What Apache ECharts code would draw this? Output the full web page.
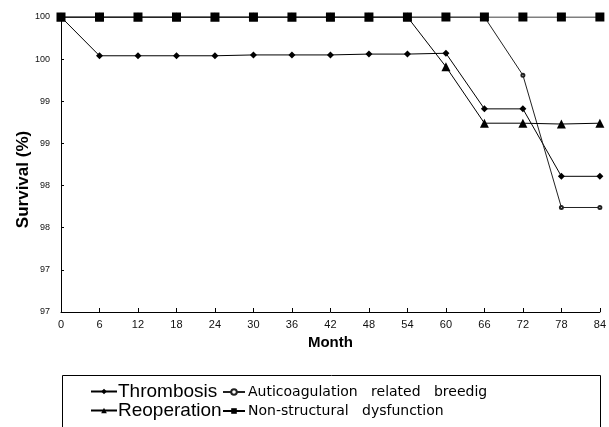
<!DOCTYPE html>
<html><head><meta charset="utf-8">
<script src="https://cdn.jsdelivr.net/npm/echarts@6/dist/echarts.min.js"></script>
<style>html,body{margin:0;padding:0;background:#fff}#c{width:609px;height:427px}</style>
</head><body><div id="c"></div>
<script>
const months = [0, 6, 12, 18, 24, 30, 36, 42, 48, 54, 60, 66, 72, 78, 84];
const thrombosis    = [100, 99.54, 99.54, 99.54, 99.54, 99.55, 99.55, 99.55, 99.56, 99.56, 99.57, 98.91, 98.91, 98.11, 98.11];
const anticoag      = [100, 100, 100, 100, 100, 100, 100, 100, 100, 100, 100, 100, 99.31, 97.74, 97.74];
const reoperation   = [100, 100, 100, 100, 100, 100, 100, 100, 100, 100, 99.41, 98.74, 98.74, 98.73, 98.74];
const nonStructural = [100, 100, 100, 100, 100, 100, 100, 100, 100, 100, 100, 100, 100, 100, 100];
const yTickValues = [96.5, 97, 97.5, 98, 98.5, 99, 99.5, 100];
const yTickLabels = ['97', '97', '98', '98', '99', '99', '100', '100'];
const names = ['Thrombosis', 'Auticoagulation   related   breedig', 'Reoperation', 'Non-structural   dysfunction'];

const pts = arr => months.map((m, i) => [m, arr[i]]);
const chart = echarts.init(document.getElementById('c'));
const font = 'Liberation Sans, Arial, sans-serif';
function legend(name, left, top, size, fam, w, pad) {
  return { data: [name], left: left, top: top, itemWidth: w, itemHeight: 7, padding: 0,
    textStyle: { fontFamily: fam, fontSize: size, color: '#000', padding: [0, 0, 0, pad] } };
}
chart.setOption({
  animation: false,
  backgroundColor: '#fff',
  grid: { left: 61, right: 9, top: 17, bottom: 115 },
  xAxis: {
    type: 'value', min: 0, max: 84, interval: 6,
    name: 'Month', nameLocation: 'middle', nameGap: 20,
    nameTextStyle: { fontFamily: font, fontWeight: 'bold', fontSize: 15, color: '#000' },
    axisLine: { lineStyle: { color: '#000', width: 1 } },
    axisTick: { inside: true, length: 4, lineStyle: { color: '#000' } },
    axisLabel: { fontFamily: font, fontSize: 11, color: '#111', margin: 7 },
    splitLine: { show: false }
  },
  yAxis: {
    type: 'value', min: 96.5, max: 100, interval: 0.5,
    name: 'Survival (%)', nameLocation: 'middle', nameGap: 29, nameRotate: 90, nameMoveOverlap: false,
    nameTextStyle: { fontFamily: font, fontWeight: 'bold', fontSize: 17, color: '#000', padding: [0, 30, 0, 0] },
    axisLine: { show: true, lineStyle: { color: '#000', width: 1 } },
    axisTick: { show: true, inside: true, length: 3, lineStyle: { color: '#000' } },
    axisLabel: { fontFamily: 'Liberation Sans Narrow, Arial Narrow, sans-serif', fontSize: 9, color: '#111', margin: 11,
      formatter: v => { const i = yTickValues.findIndex(t => Math.abs(t - v) < 1e-6); return i >= 0 ? yTickLabels[i] : ''; } },
    splitLine: { show: false }
  },
  legend: [
    legend(names[0], 90, 382, 19, font, 26, -4),
    legend(names[2], 90, 401, 19, font, 26, -4),
    legend(names[1], 222, 385, 14, 'DejaVu Sans, sans-serif', 22, -2),
    legend(names[3], 222, 404, 14, 'DejaVu Sans, sans-serif', 22, -2)
  ],
  graphic: [{ type: 'rect', shape: { x: 62.5, y: 375.5, width: 538, height: 70 },
    style: { fill: 'none', stroke: '#000', lineWidth: 1 }, z: -1 }],
  series: [
    { name: names[0], type: 'line', data: pts(thrombosis), symbol: 'diamond', symbolSize: 7,
      itemStyle: { color: '#000' }, lineStyle: { color: '#000', width: 1 } },
    { name: names[1], type: 'line', data: pts(anticoag), symbol: 'emptyCircle', symbolSize: 3,
      itemStyle: { color: '#222', borderColor: '#222' }, lineStyle: { color: '#222', width: 1 } },
    { name: names[2], type: 'line', data: pts(reoperation), symbol: 'triangle', symbolSize: 9,
      itemStyle: { color: '#000' }, lineStyle: { color: '#000', width: 1 } },
    { name: names[3], type: 'line', data: pts(nonStructural), symbol: 'rect', symbolSize: 9,
      itemStyle: { color: '#000' }, lineStyle: { color: '#000', width: 1.2 } }
  ]
});
</script></body></html>
